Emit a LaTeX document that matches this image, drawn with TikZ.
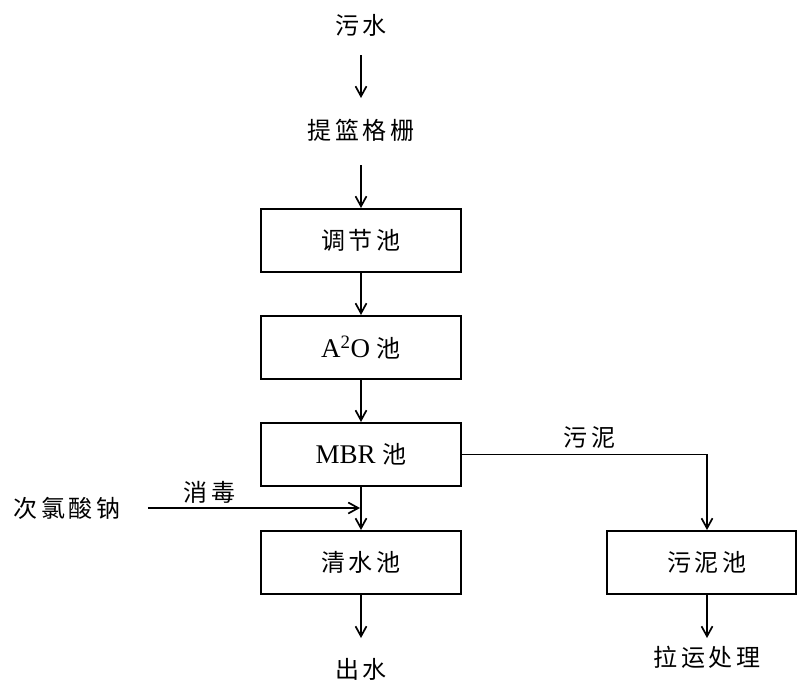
\documentclass[tikz,border=0pt]{standalone}
\usepackage{fontspec}
\setmainfont{Liberation Serif}
\newfontfamily\cjk[LetterSpace=16]{Noto Sans CJK SC}
\newcommand\cjkfont{\cjk\fontsize{24}{28}\selectfont}
\usetikzlibrary{arrows.meta,calc}
\begin{document}
\begin{tikzpicture}[x=1pt,y=-1pt,
  box/.style={draw, line width=2pt, minimum width=200pt, minimum height=63pt, inner sep=0pt, font=\fontsize{27}{31}\selectfont},
  lbl/.style={inner sep=0pt, font=\cjkfont},
  arr/.style={line width=1.7pt, -{Straight Barb[length=10pt,width=11pt,line width=1.7pt]}}]
\useasboundingbox (0,0) rectangle (797,681);
% texts
\node[lbl] (wushui) at (361,25) {污水};
\node[lbl] (grille) at (361,130) {提篮格栅};
% boxes
\node[box] (tiaojie) at (361,240.5) {\cjkfont 调节池};
\node[box] (ao) at (361,347.5) {A\textsuperscript{2}O {\cjkfont 池}};
\node[box] (mbr) at (361,454.5) {MBR {\cjkfont 池}};
\node[box] (clear) at (361,562.5) {\cjkfont 清水池};
\node[box, minimum width=189pt] (sludge) at (701.5,562.5) {};
\node[lbl] (sludgetxt) at (707,562.5) {污泥池};
\node[lbl] (out) at (361,669) {出水};
\node[lbl] (haul) at (707,657) {拉运处理};
\node[lbl] (naclo) at (67,508) {次氯酸钠};
\coordinate (junction) at (mbr.south |- naclo.east);
\coordinate (corner) at (sludgetxt |- mbr.east);
% connectors
\draw[arr] ($(wushui.center)+(0,30)$) -- ($(grille.center)+(0,-32)$);
\draw[arr] ($(grille.center)+(0,35)$) -- (tiaojie.north);
\draw[arr] (tiaojie.south) -- (ao.north);
\draw[arr] (ao.south) -- (mbr.north);
\draw[arr] (mbr.south) -- (clear.north);
\draw[arr] ($(naclo.east)+(27,0)$) -- node[lbl, above=4pt, pos=0.29] (disinfect) {消毒} ($(junction)+(-1,0)$);
\draw[arr] (mbr.east) -- node[lbl, above=5pt, pos=0.52] (sludgelbl) {污泥} (corner) -- (sludgetxt |- sludge.north);
\draw[arr] (clear.south) -- ($(out.center)+(0,-31)$);
\draw[arr] (sludgetxt |- sludge.south) -- ($(haul.center)+(0,-19)$);
\end{tikzpicture}
\end{document}
